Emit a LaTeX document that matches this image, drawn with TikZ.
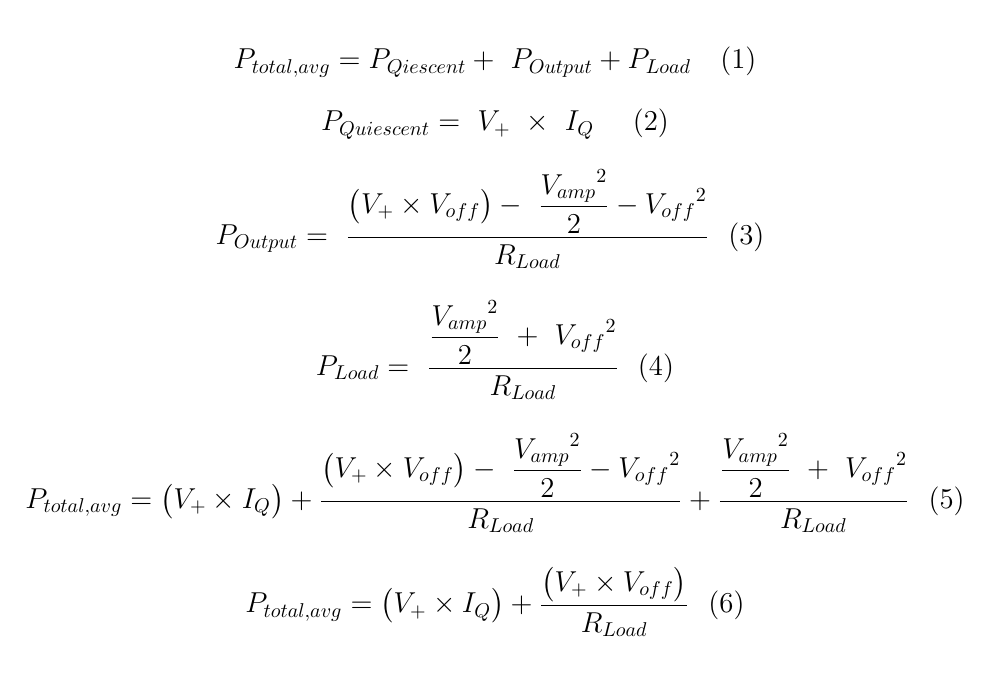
\documentclass[tikz,border=0pt]{standalone}
\usepackage{amsmath}
\begin{document}
\begin{tikzpicture}[x=1pt,y=1pt,eq/.style={inner sep=0pt,font=\fontsize{14.6}{17}\selectfont}]
\useasboundingbox (0,0) rectangle (495,-336.5);
\node[eq] (e1) at (247.5,-31) {$\displaystyle P_{total,avg}=P_{Qiescent}+\ P_{Output}+P_{Load}\quad(1)$};
\node[eq] (e2) at (247.5,-62) {$\displaystyle P_{Quiescent}=\ V_{+}\ \times\ I_{Q}\quad\ (2)$};
\node[eq] (e3) at (245,-109.5) {$\displaystyle P_{Output}=\ \frac{\bigl(V_{+}\times V_{off}\bigr)-\ \dfrac{{V_{amp}}^{2}}{2}-{V_{off}}^{2}}{R_{Load}}\ \ (3)$};
\node[eq] (e4) at (247.5,-175) {$\displaystyle P_{Load}=\ \frac{\dfrac{{V_{amp}}^{2}}{2}\ +\ {V_{off}}^{2}}{R_{Load}}\ \ (4)$};
\node[eq] (e5) at (247.5,-241.5) {$\displaystyle P_{total,avg}=\bigl(V_{+}\times I_{Q}\bigr)+\frac{\bigl(V_{+}\times V_{off}\bigr)-\ \dfrac{{V_{amp}}^{2}}{2}-{V_{off}}^{2}}{R_{Load}}+\frac{\dfrac{{V_{amp}}^{2}}{2}\ +\ {V_{off}}^{2}}{R_{Load}}\ \ (5)$};
\node[eq] (e6) at (247.5,-301) {$\displaystyle P_{total,avg}=\bigl(V_{+}\times I_{Q}\bigr)+\frac{\bigl(V_{+}\times V_{off}\bigr)}{R_{Load}}\ \ (6)$};
\end{tikzpicture}
\end{document}
